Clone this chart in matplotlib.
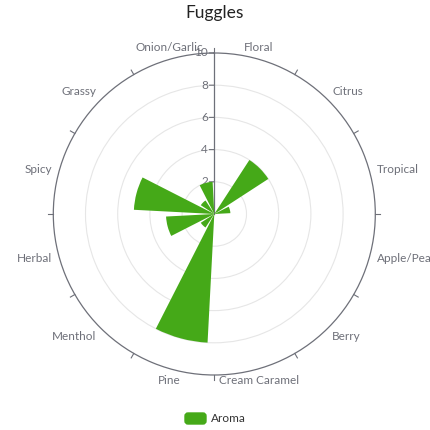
import numpy as np
import matplotlib
matplotlib.use("Agg")
import matplotlib.pyplot as plt
from matplotlib.patches import FancyBboxPatch

plt.rcParams['font.family'] = ['Lato', 'DejaVu Sans']

# categories clockwise from the top
categories = ["Floral", "Citrus", "Tropical", "Apple/Pear", "Berry", "Cream Caramel",
              "Pine", "Menthol", "Herbal", "Spicy", "Grassy", "Onion/Garlic"]
aroma = [0, 4, 1, 0, 0, 0, 8, 1, 3, 5, 1, 2]
rticks = [2, 4, 6, 8, 10]
title = "Fuggles"
series_name = "Aroma"

green = '#45a918'
axis_col = '#6e7079'
text_col = '#6e7079'

W = 430.0
fig = plt.figure(figsize=(4.3, 4.3), dpi=100)
cx, cy, R = 214.3, 216.0, 161.0  # centre (from bottom) and radius in px
ax = fig.add_axes([(cx - R) / W, (cy - R) / W, 2 * R / W, 2 * R / W], projection='polar')
ax.set_theta_zero_location('N')
ax.set_theta_direction(-1)

n = len(categories)
step = 360.0 / n
centers = np.deg2rad(step / 2 + step * np.arange(n))
ax.bar(centers, aroma, width=np.deg2rad(step * 0.8), color=green, zorder=3, label=series_name)

ax.set_ylim(0, 10)
ax.set_yticks(rticks[:-1])
ax.set_yticklabels([])
ax.yaxis.grid(True, color='#e6e6e6', lw=0.8)
ax.set_xticks([])
ax.xaxis.grid(False)
ax.spines['polar'].set_color(axis_col)
ax.spines['polar'].set_linewidth(0.9)

# ticks on the outer circle, at the sector boundaries
for b in np.deg2rad(np.arange(0, 360, step)):
    ax.plot([b, b], [10, 10.32], color=axis_col, lw=0.8, clip_on=False, zorder=2)

# radial axis line with ticks and labels
ax.plot([0, 0], [0, 10], color=axis_col, lw=0.9, zorder=2)
for r in rticks:
    ax.annotate('', xy=(0, r), xytext=(-3.6, 0), textcoords='offset points',
                arrowprops=dict(arrowstyle='-', color=axis_col, lw=0.8, shrinkA=0, shrinkB=0),
                zorder=2)
    ax.annotate(str(r), xy=(0, r), xytext=(-4.5, 0), textcoords='offset points',
                ha='right', va='center', fontsize=8.5, color=text_col, zorder=2)

# category labels around the circle
for th, name in zip(centers, categories):
    s = np.sin(th)
    if abs(s) < 0.5:
        ha, dx = 'center', 0
    elif s > 0:
        ha, dx = 'left', -3
    else:
        ha, dx = 'right', 3
    ax.annotate(name, xy=(th, 10.72), xytext=(dx, 0), textcoords='offset points',
                ha=ha, va='center', fontsize=8.5, color=text_col, annotation_clip=False)

fig.text(0.5, 1 - 13 / W, title, ha='center', va='center', fontsize=12.5, color='#222222')

# legend
fig.patches.append(FancyBboxPatch((185 / W, 6 / W), 21 / W, 11 / W,
                                  boxstyle='round,pad=0,rounding_size=0.007',
                                  transform=fig.transFigure, color=green))
fig.text(211 / W, 11.5 / W, series_name, ha='left', va='center', fontsize=8.5, color='#333333')

fig.savefig('out.png', dpi=100, facecolor='white')
